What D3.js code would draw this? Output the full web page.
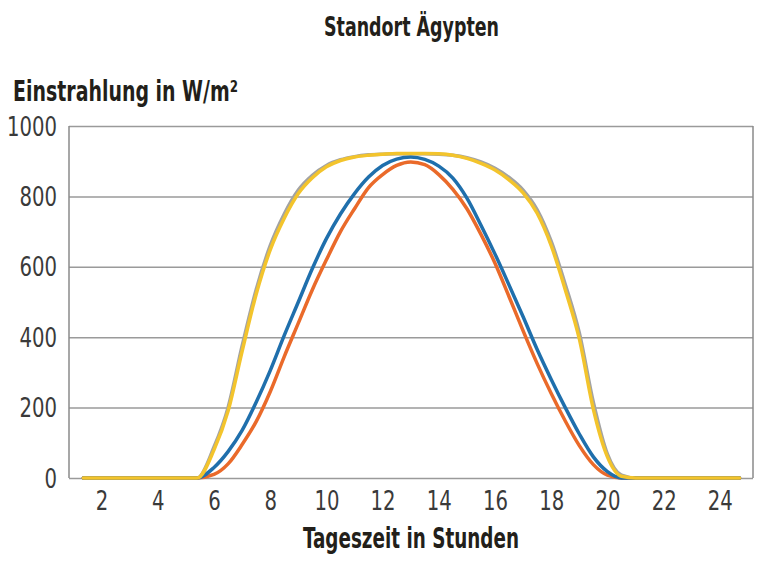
<!DOCTYPE html>
<html>
<head>
<meta charset="utf-8">
<script src="https://cdn.jsdelivr.net/npm/d3@7"></script>
<style>
  body { margin: 0; background: #fff; }
  .tick-label { font-family: "Liberation Sans Narrow", "DejaVu Sans Condensed", sans-serif; fill: #3a3a3a; }
  .chart-title { font-family: "Liberation Sans Narrow", "DejaVu Sans Condensed", sans-serif; font-weight: bold; fill: #231f1a; }
</style>
</head>
<body>
<svg id="chart"></svg>
<script>
// Tageszeit (Stunden) und Einstrahlung (W/m²) je Kurve
const hours = [1.35, 5, 5.4, 6, 6.5, 7, 7.5, 8, 8.5, 9, 9.5, 10, 10.5, 11, 11.5, 12, 12.5,
  13, 13.5, 14, 14.5, 15, 15.5, 16, 16.5, 17, 17.5, 18, 18.5, 19, 19.5, 20, 20.5, 21, 24.7];

const grayValues = [0, 0, 0, 88, 200, 375, 535, 660, 750, 818, 860, 888, 904, 913, 918, 920, 921,
  921, 921, 920, 917, 910, 898, 880, 854, 818, 762, 672, 550, 412, 215, 68, 8, 0, 0];
const orangeValues = [0, 0, 0, 10, 40, 95, 160, 245, 345, 440, 535, 620, 700, 765, 825, 862, 888,
  898, 890, 862, 820, 765, 692, 610, 515, 418, 325, 240, 162, 92, 38, 8, 0, 0, 0];
const blueValues = [0, 0, 0, 30, 75, 135, 215, 305, 405, 500, 595, 680, 750, 808, 855, 888, 906,
  912, 905, 886, 852, 795, 718, 636, 548, 458, 365, 280, 200, 125, 60, 18, 0, 0, 0];
const yellowValues = [0, 0, 0, 80, 190, 360, 522, 648, 738, 808, 853, 884, 902, 912, 917, 920, 922,
  922, 922, 921, 917, 908, 894, 875, 847, 810, 752, 660, 535, 395, 195, 60, 5, 0, 0];

const seriesNames = ['grau', 'orange', 'blau', 'gelb'];
const seriesColors = ['#a3a3a3', '#ea6a2a', '#1f6fac', '#f3c42c'];

const xTicks = [2, 4, 6, 8, 10, 12, 14, 16, 18, 20, 22, 24];
const yTicks = [0, 200, 400, 600, 800, 1000];

class IrradianceChart {

  constructor(_config) {
    this.config = {
      parentElement: _config.parentElement,
      containerWidth: _config.containerWidth || 769,
      containerHeight: _config.containerHeight || 563,
      margin: _config.margin || {top: 126, right: 16, bottom: 85, left: 69}
    };
    this.initVis();
  }

  initVis() {
    let vis = this;

    vis.width = vis.config.containerWidth - vis.config.margin.left - vis.config.margin.right;
    vis.height = vis.config.containerHeight - vis.config.margin.top - vis.config.margin.bottom;

    vis.xScale = d3.scaleLinear()
      .domain([0.84, 25.18])
      .range([0, vis.width]);

    vis.yScale = d3.scaleLinear()
      .domain([0, 1000])
      .range([vis.height, 0]);

    vis.svg = d3.select(vis.config.parentElement)
      .attr('width', vis.config.containerWidth)
      .attr('height', vis.config.containerHeight);

    vis.chart = vis.svg.append('g')
      .attr('transform', `translate(${vis.config.margin.left},${vis.config.margin.top})`);

    // gridlines + frame
    vis.chart.append('g')
      .attr('class', 'grid')
      .call(d3.axisLeft(vis.yScale).tickValues(yTicks).tickSize(-vis.width).tickFormat(''))
      .call(g => g.select('.domain').remove())
      .selectAll('line')
      .attr('stroke', '#9a9a9a')
      .attr('stroke-width', 1.5);

    vis.chart.append('line')
      .attr('x1', 0).attr('x2', 0)
      .attr('y1', 0).attr('y2', vis.height)
      .attr('stroke', '#8a8a8a').attr('stroke-width', 1.5);
    vis.chart.append('line')
      .attr('x1', vis.width).attr('x2', vis.width)
      .attr('y1', 0).attr('y2', vis.height)
      .attr('stroke', '#8a8a8a').attr('stroke-width', 1.5);

    vis.yAxisG = vis.chart.append('g')
      .call(d3.axisLeft(vis.yScale).tickValues(yTicks).tickFormat(d3.format('d')).tickSize(0).tickPadding(12))
      .call(g => g.select('.domain').remove());
    vis.yAxisG.selectAll('text')
      .attr('class', 'tick-label')
      .attr('font-size', '26px')
      .attr('dy', '0.35em')
      .attr('textLength', d => String(d).length * 12.5)
      .attr('lengthAdjust', 'spacingAndGlyphs');

    vis.xAxisG = vis.chart.append('g')
      .attr('transform', `translate(0,${vis.height})`)
      .call(d3.axisBottom(vis.xScale).tickValues(xTicks).tickSize(0).tickPadding(14))
      .call(g => g.select('.domain').remove());
    vis.xAxisG.selectAll('text')
      .attr('class', 'tick-label')
      .attr('font-size', '26px')
      .attr('textLength', d => String(d).length * 12.5)
      .attr('lengthAdjust', 'spacingAndGlyphs');

    // titles
    vis.svg.append('text')
      .attr('class', 'chart-title')
      .attr('x', 324).attr('y', 36)
      .attr('font-size', '26px')
      .attr('textLength', 175)
      .attr('lengthAdjust', 'spacingAndGlyphs')
      .text('Standort Ägypten');

    vis.svg.append('text')
      .attr('class', 'chart-title')
      .attr('x', 13).attr('y', 101)
      .attr('font-size', '28px')
      .attr('textLength', 225)
      .attr('lengthAdjust', 'spacingAndGlyphs')
      .text('Einstrahlung in W/m²');

    vis.svg.append('text')
      .attr('class', 'chart-title')
      .attr('x', 303).attr('y', 548)
      .attr('font-size', '28px')
      .attr('textLength', 216)
      .attr('lengthAdjust', 'spacingAndGlyphs')
      .text('Tageszeit in Stunden');

    vis.updateVis();
  }

  updateVis() {
    let vis = this;
    const valueArrays = [grayValues, orangeValues, blueValues, yellowValues];
    vis.series = seriesNames.map((name, i) => ({
      name,
      color: seriesColors[i],
      points: hours.map((h, j) => ({h, v: valueArrays[i][j]}))
    }));
    vis.line = d3.line()
      .x(d => vis.xScale(d.h))
      .y(d => vis.yScale(d.v))
      .curve(d3.curveMonotoneX);
    vis.renderVis();
  }

  renderVis() {
    let vis = this;
    vis.chart.selectAll('.series')
      .data(vis.series, d => d.name)
      .join('path')
      .attr('class', 'series')
      .attr('d', d => vis.line(d.points))
      .attr('fill', 'none')
      .attr('stroke', d => d.color)
      .attr('stroke-width', 3.5)
      .attr('stroke-linejoin', 'round')
      .attr('stroke-linecap', 'round');
  }
}

new IrradianceChart({parentElement: '#chart'});
</script>
</body>
</html>
